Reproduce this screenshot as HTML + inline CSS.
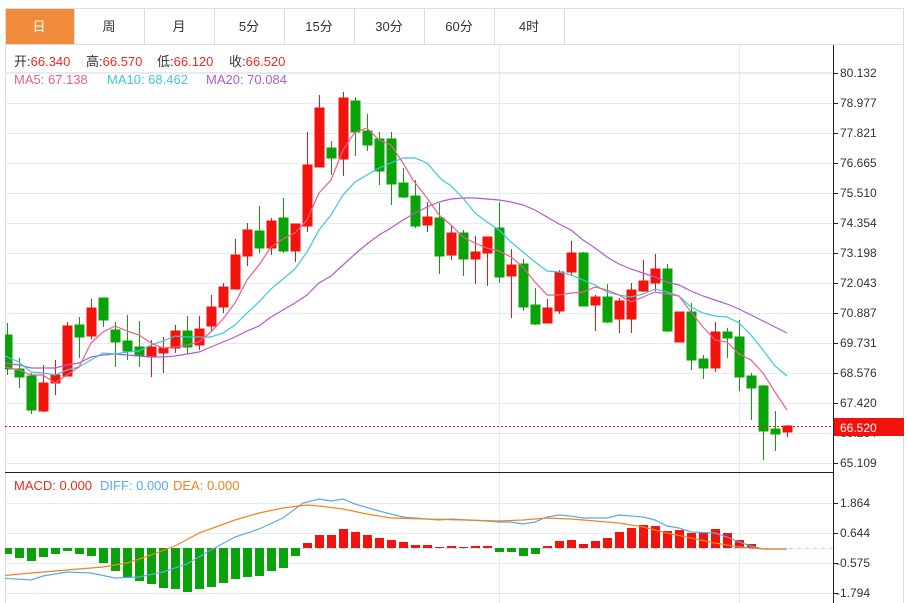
<!DOCTYPE html>
<html><head><meta charset="utf-8"><style>
html,body{margin:0;padding:0;background:#fff;width:907px;height:603px;overflow:hidden}
svg{display:block}
text{font-family:"Liberation Sans","Noto Sans CJK SC",sans-serif;font-size:12px}
.t{font-size:13px}
</style></head><body>
<svg width="907" height="603" viewBox="0 0 907 603" xmlns="http://www.w3.org/2000/svg">
<defs><clipPath id="c"><rect x="5" y="45" width="828" height="558"/></clipPath></defs>
<rect x="5.5" y="8.5" width="898" height="600" fill="none" stroke="#dcdcdc"/>
<rect x="6" y="9" width="68" height="35" fill="#f08c3c"/>
<g stroke="#dcdcdc">
<line x1="74.5" y1="9" x2="74.5" y2="44"/><line x1="144.5" y1="9" x2="144.5" y2="44"/><line x1="214.5" y1="9" x2="214.5" y2="44"/><line x1="284.5" y1="9" x2="284.5" y2="44"/><line x1="354.5" y1="9" x2="354.5" y2="44"/><line x1="424.5" y1="9" x2="424.5" y2="44"/><line x1="494.5" y1="9" x2="494.5" y2="44"/><line x1="564.5" y1="9" x2="564.5" y2="44"/>
<line x1="5" y1="44.5" x2="904" y2="44.5"/>
<line x1="5" y1="72.5" x2="833" y2="72.5" stroke="#e6ebf0"/>
</g>
<g text-anchor="middle" fill="#333">
<text class="t" x="39" y="31" fill="#fff">日</text>
<text class="t" x="109" y="31">周</text>
<text class="t" x="179" y="31">月</text>
<text class="t" x="249" y="31">5分</text>
<text class="t" x="319" y="31">15分</text>
<text class="t" x="389" y="31">30分</text>
<text class="t" x="459" y="31">60分</text>
<text class="t" x="529" y="31">4时</text>
</g>
<g class="t">
<text class="t" x="14" y="66" fill="#333">开:<tspan fill="#f0281e">66.340</tspan></text>
<text class="t" x="86" y="66" fill="#333">高:<tspan fill="#f0281e">66.570</tspan></text>
<text class="t" x="157" y="66" fill="#333">低:<tspan fill="#f0281e">66.120</tspan></text>
<text class="t" x="229" y="66" fill="#333">收:<tspan fill="#f0281e">66.520</tspan></text>
<text class="t" x="14" y="84" fill="#ec5e8a">MA5: 67.138</text>
<text class="t" x="107" y="84" fill="#3ec6e0">MA10: 68.462</text>
<text class="t" x="206" y="84" fill="#b15bd0">MA20: 70.084</text>
</g>
<g stroke="#e6ebf0">
<line x1="5" y1="73.5" x2="833" y2="73.5"/><line x1="5" y1="103.5" x2="833" y2="103.5"/><line x1="5" y1="133.5" x2="833" y2="133.5"/><line x1="5" y1="163.5" x2="833" y2="163.5"/><line x1="5" y1="193.5" x2="833" y2="193.5"/><line x1="5" y1="223.5" x2="833" y2="223.5"/><line x1="5" y1="253.5" x2="833" y2="253.5"/><line x1="5" y1="283.5" x2="833" y2="283.5"/><line x1="5" y1="313.5" x2="833" y2="313.5"/><line x1="5" y1="343.5" x2="833" y2="343.5"/><line x1="5" y1="373.5" x2="833" y2="373.5"/><line x1="5" y1="403.5" x2="833" y2="403.5"/><line x1="5" y1="433.5" x2="833" y2="433.5"/><line x1="5" y1="463.5" x2="833" y2="463.5"/>
<line x1="5" y1="503.5" x2="833" y2="503.5"/><line x1="5" y1="533.5" x2="833" y2="533.5"/><line x1="5" y1="563.5" x2="833" y2="563.5"/><line x1="5" y1="593.5" x2="833" y2="593.5"/>
<line x1="499.5" y1="45" x2="499.5" y2="603"/><line x1="739.5" y1="45" x2="739.5" y2="603"/>
</g>
<g clip-path="url(#c)">
<g stroke-width="1">
<g fill="#09a309" stroke="#09a309">
<line x1="7.5" y1="323" x2="7.5" y2="375"/><rect x="3" y="335" width="9" height="34"/>
<line x1="19.5" y1="358" x2="19.5" y2="388"/><rect x="15" y="369" width="9" height="8"/>
<line x1="31.5" y1="373" x2="31.5" y2="414"/><rect x="27" y="376" width="9" height="34"/>
<line x1="79.5" y1="317" x2="79.5" y2="358"/><rect x="75" y="325" width="9" height="12"/>
<line x1="103.5" y1="298" x2="103.5" y2="327"/><rect x="99" y="298" width="9" height="22"/>
<line x1="115.5" y1="322" x2="115.5" y2="367"/><rect x="111" y="330" width="9" height="12"/>
<line x1="127.5" y1="315" x2="127.5" y2="360"/><rect x="123" y="341" width="9" height="10"/>
<line x1="139.5" y1="321" x2="139.5" y2="367"/><rect x="135" y="347" width="9" height="9"/>
<line x1="187.5" y1="316" x2="187.5" y2="354"/><rect x="183" y="331" width="9" height="16"/>
<line x1="259.5" y1="206" x2="259.5" y2="253"/><rect x="255" y="231" width="9" height="17"/>
<line x1="283.5" y1="198" x2="283.5" y2="253"/><rect x="279" y="218" width="9" height="33"/>
<line x1="331.5" y1="141" x2="331.5" y2="175"/><rect x="327" y="148" width="9" height="10"/>
<line x1="355.5" y1="97" x2="355.5" y2="156"/><rect x="351" y="101" width="9" height="31"/>
<line x1="367.5" y1="114" x2="367.5" y2="151"/><rect x="363" y="131" width="9" height="14"/>
<line x1="379.5" y1="132" x2="379.5" y2="185"/><rect x="375" y="139" width="9" height="32"/>
<line x1="391.5" y1="132" x2="391.5" y2="205"/><rect x="387" y="139" width="9" height="45"/>
<line x1="403.5" y1="168" x2="403.5" y2="198"/><rect x="399" y="183" width="9" height="14"/>
<line x1="415.5" y1="180" x2="415.5" y2="228"/><rect x="411" y="196" width="9" height="30"/>
<line x1="439.5" y1="203" x2="439.5" y2="274"/><rect x="435" y="218" width="9" height="38"/>
<line x1="463.5" y1="230" x2="463.5" y2="276"/><rect x="459" y="233" width="9" height="26"/>
<line x1="499.5" y1="202" x2="499.5" y2="283"/><rect x="495" y="228" width="9" height="49"/>
<line x1="523.5" y1="259" x2="523.5" y2="311"/><rect x="519" y="264" width="9" height="43"/>
<line x1="535.5" y1="288" x2="535.5" y2="325"/><rect x="531" y="305" width="9" height="19"/>
<line x1="583.5" y1="252" x2="583.5" y2="306"/><rect x="579" y="253" width="9" height="53"/>
<line x1="607.5" y1="284" x2="607.5" y2="323"/><rect x="603" y="297" width="9" height="25"/>
<line x1="667.5" y1="264" x2="667.5" y2="332"/><rect x="663" y="269" width="9" height="62"/>
<line x1="691.5" y1="303" x2="691.5" y2="370"/><rect x="687" y="312" width="9" height="48"/>
<line x1="703.5" y1="355" x2="703.5" y2="379"/><rect x="699" y="359" width="9" height="9"/>
<line x1="727.5" y1="328" x2="727.5" y2="358"/><rect x="723" y="332" width="9" height="6"/>
<line x1="739.5" y1="320" x2="739.5" y2="391"/><rect x="735" y="337" width="9" height="40"/>
<line x1="751.5" y1="373" x2="751.5" y2="420"/><rect x="747" y="376" width="9" height="12"/>
<line x1="763.5" y1="385" x2="763.5" y2="460"/><rect x="759" y="386" width="9" height="45"/>
<line x1="775.5" y1="411" x2="775.5" y2="451"/><rect x="771" y="429" width="9" height="5"/>
</g>
<g fill="#f2140c" stroke="#f2140c">
<line x1="43.5" y1="365" x2="43.5" y2="412"/><rect x="39" y="383" width="9" height="28"/>
<line x1="55.5" y1="360" x2="55.5" y2="395"/><rect x="51" y="375" width="9" height="8"/>
<line x1="67.5" y1="322" x2="67.5" y2="376"/><rect x="63" y="326" width="9" height="50"/>
<line x1="91.5" y1="299" x2="91.5" y2="339"/><rect x="87" y="308" width="9" height="28"/>
<line x1="151.5" y1="340" x2="151.5" y2="377"/><rect x="147" y="347" width="9" height="10"/>
<line x1="163.5" y1="337" x2="163.5" y2="373"/><rect x="159" y="348" width="9" height="5"/>
<line x1="175.5" y1="325" x2="175.5" y2="353"/><rect x="171" y="331" width="9" height="17"/>
<line x1="199.5" y1="316" x2="199.5" y2="350"/><rect x="195" y="329" width="9" height="16"/>
<line x1="211.5" y1="295" x2="211.5" y2="331"/><rect x="207" y="307" width="9" height="19"/>
<line x1="223.5" y1="283" x2="223.5" y2="313"/><rect x="219" y="287" width="9" height="20"/>
<line x1="235.5" y1="239" x2="235.5" y2="289"/><rect x="231" y="255" width="9" height="34"/>
<line x1="247.5" y1="223" x2="247.5" y2="266"/><rect x="243" y="230" width="9" height="26"/>
<line x1="271.5" y1="218" x2="271.5" y2="255"/><rect x="267" y="221" width="9" height="27"/>
<line x1="295.5" y1="224" x2="295.5" y2="262"/><rect x="291" y="224" width="9" height="27"/>
<line x1="307.5" y1="132" x2="307.5" y2="232"/><rect x="303" y="165" width="9" height="61"/>
<line x1="319.5" y1="95" x2="319.5" y2="167"/><rect x="315" y="108" width="9" height="59"/>
<line x1="343.5" y1="92" x2="343.5" y2="176"/><rect x="339" y="98" width="9" height="61"/>
<line x1="427.5" y1="202" x2="427.5" y2="232"/><rect x="423" y="217" width="9" height="8"/>
<line x1="451.5" y1="225" x2="451.5" y2="260"/><rect x="447" y="233" width="9" height="22"/>
<line x1="475.5" y1="236" x2="475.5" y2="284"/><rect x="471" y="252" width="9" height="7"/>
<line x1="487.5" y1="237" x2="487.5" y2="286"/><rect x="483" y="237" width="9" height="16"/>
<line x1="511.5" y1="249" x2="511.5" y2="318"/><rect x="507" y="265" width="9" height="11"/>
<line x1="547.5" y1="299" x2="547.5" y2="323"/><rect x="543" y="308" width="9" height="15"/>
<line x1="559.5" y1="270" x2="559.5" y2="314"/><rect x="555" y="272" width="9" height="39"/>
<line x1="571.5" y1="241" x2="571.5" y2="276"/><rect x="567" y="253" width="9" height="19"/>
<line x1="595.5" y1="295" x2="595.5" y2="331"/><rect x="591" y="297" width="9" height="8"/>
<line x1="619.5" y1="298" x2="619.5" y2="333"/><rect x="615" y="301" width="9" height="18"/>
<line x1="631.5" y1="283" x2="631.5" y2="333"/><rect x="627" y="290" width="9" height="29"/>
<line x1="643.5" y1="260" x2="643.5" y2="292"/><rect x="639" y="281" width="9" height="10"/>
<line x1="655.5" y1="254" x2="655.5" y2="291"/><rect x="651" y="269" width="9" height="14"/>
<line x1="679.5" y1="312" x2="679.5" y2="342"/><rect x="675" y="312" width="9" height="30"/>
<line x1="715.5" y1="322" x2="715.5" y2="372"/><rect x="711" y="332" width="9" height="36"/>
<line x1="787.5" y1="425" x2="787.5" y2="437"/><rect x="783" y="426" width="9" height="6"/>
</g>
</g>
<g fill="none" stroke-width="1.2">
<polyline stroke="#b15bd0" points="5,363 19,365 31,368 43,368 55,368 67,365 79,363 91,357 103,355 115,354 127,355 139,356 151,357 163,357 175,356 187,354 199,352 211,347 223,342 235,337 247,331 259,326 271,317 283,310 295,303 307,295 319,283 331,276 343,265 355,254 367,244 379,235 391,228 403,220 415,213 427,207 439,202 451,199 463,198 475,198 487,199 499,200 511,202 523,205 535,210 547,217 559,224 571,230 583,240 595,248 607,257 619,264 631,269 643,273 655,277 667,282 679,285 691,291 703,296 715,300 727,304 739,309 751,315 763,321 775,327 787,333"/>
<polyline stroke="#3ec6e0" points="5,356 19,362 31,372 43,373 55,375 67,370 79,367 91,360 103,353 115,354 127,352 139,351 151,345 163,341 175,336 187,337 199,337 211,337 223,333 235,325 247,313 259,302 271,289 283,279 295,269 307,252 319,230 331,215 343,195 355,182 367,175 379,168 391,163 403,158 415,158 427,163 442,180 450,185 463,198 475,213 487,222 499,230 511,242 523,252 535,262 547,271 559,272 571,275 583,280 595,285 607,292 619,295 631,297 643,294 655,289 667,292 679,296 691,307 703,313 715,316 727,317 739,323 751,335 763,350 775,366 787,376"/>
<polyline stroke="#ec5e8a" points="5,367 19,370 31,375 43,375 55,383 67,375 79,367 91,343 103,332 115,326 127,331 139,335 151,343 163,348 175,347 187,345 199,342 211,332 223,319 235,303 247,280 259,265 271,247 283,239 295,233 307,220 319,193 331,180 343,150 355,132 367,128 379,140 391,145 403,163 413,180 427,198 439,215 451,225 463,237 475,243 487,248 499,251 511,257 523,267 535,282 547,295 559,295 571,293 583,292 595,287 607,290 619,295 631,302 643,297 655,292 667,294 679,296 691,312 703,327 715,340 727,342 739,354 751,360 763,373 775,392 787,410"/>
</g>
<line x1="5" y1="426.5" x2="833" y2="426.5" stroke="#f2140c" stroke-dasharray="2,2"/>
<line x1="5" y1="548.5" x2="833" y2="548.5" stroke="#a8dcf0" stroke-dasharray="4,4"/>
<g fill="#09a309">
<rect x="3" y="548" width="9" height="6"/><rect x="15" y="548" width="9" height="10"/><rect x="27" y="548" width="9" height="13"/><rect x="39" y="548" width="9" height="9"/><rect x="51" y="548" width="9" height="6"/><rect x="63" y="548" width="9" height="3"/><rect x="75" y="548" width="9" height="6"/><rect x="87" y="548" width="9" height="8"/><rect x="99" y="548" width="9" height="15"/><rect x="111" y="548" width="9" height="23"/><rect x="123" y="548" width="9" height="29"/><rect x="135" y="548" width="9" height="33"/><rect x="147" y="548" width="9" height="36"/><rect x="159" y="548" width="9" height="40"/><rect x="171" y="548" width="9" height="41"/><rect x="183" y="548" width="9" height="44"/><rect x="195" y="548" width="9" height="41"/><rect x="207" y="548" width="9" height="39"/><rect x="219" y="548" width="9" height="35"/><rect x="231" y="548" width="9" height="31"/><rect x="243" y="548" width="9" height="29"/><rect x="255" y="548" width="9" height="28"/><rect x="267" y="548" width="9" height="23"/><rect x="279" y="548" width="9" height="20"/><rect x="291" y="548" width="9" height="8"/>
<rect x="495" y="548" width="9" height="4"/><rect x="507" y="548" width="9" height="4"/><rect x="519" y="548" width="9" height="8"/><rect x="531" y="548" width="9" height="6"/>
</g>
<g fill="#f2140c">
<rect x="303" y="543" width="9" height="5"/><rect x="315" y="535" width="9" height="13"/><rect x="327" y="535" width="9" height="13"/><rect x="339" y="529" width="9" height="19"/><rect x="351" y="532" width="9" height="16"/><rect x="363" y="535" width="9" height="13"/><rect x="375" y="538" width="9" height="10"/><rect x="387" y="540" width="9" height="8"/><rect x="399" y="542" width="9" height="6"/><rect x="411" y="545" width="9" height="3"/><rect x="423" y="545" width="9" height="3"/><rect x="435" y="547" width="9" height="1"/><rect x="447" y="546" width="9" height="2"/><rect x="459" y="547" width="9" height="1"/><rect x="471" y="546" width="9" height="2"/><rect x="483" y="546" width="9" height="2"/>
<rect x="543" y="546" width="9" height="2"/><rect x="555" y="541" width="9" height="7"/><rect x="567" y="540" width="9" height="8"/><rect x="579" y="544" width="9" height="4"/><rect x="591" y="541" width="9" height="7"/><rect x="603" y="538" width="9" height="10"/><rect x="615" y="532" width="9" height="16"/><rect x="627" y="528" width="9" height="20"/><rect x="639" y="525" width="9" height="23"/><rect x="651" y="526" width="9" height="22"/><rect x="663" y="531" width="9" height="17"/><rect x="675" y="530" width="9" height="18"/><rect x="687" y="533" width="9" height="15"/><rect x="699" y="533" width="9" height="15"/><rect x="711" y="529" width="9" height="19"/><rect x="723" y="533" width="9" height="15"/><rect x="735" y="540" width="9" height="8"/><rect x="747" y="544" width="9" height="4"/>
</g>
<g fill="none" stroke-width="1.2">
<polyline stroke="#5aa9ef" points="0,578 31,580 43,576 67,572 91,573 115,578 139,577 163,572 187,564 211,550 235,537 259,529 283,518 303,503 319,499 331,501 343,499 355,504 379,511 403,517 415,518 439,520 451,519 487,521 499,522 511,522 523,524 535,522 547,517 559,515 571,516 583,518 607,518 619,515 643,517 655,520 667,526 679,528 691,532 715,533 727,537 739,542 751,546 763,549 787,549"/>
<polyline stroke="#f5821f" points="0,576 31,573 67,570 103,567 127,563 151,555 175,546 199,533 235,520 259,513 283,508 307,505 319,506 343,509 367,514 391,518 427,519 463,520 499,521 523,520 547,518 571,519 595,521 619,523 643,527 667,533 691,538 715,543 739,547 763,549 787,549"/>
</g>
</g>
<text class="t" x="14" y="490" fill="#f0281e">MACD: 0.000</text>
<text class="t" x="100" y="490" fill="#5aa9ef">DIFF: 0.000</text>
<text class="t" x="173" y="490" fill="#f5821f">DEA: 0.000</text>
<line x1="5" y1="472.5" x2="833" y2="472.5" stroke="#222"/>
<line x1="833.5" y1="45" x2="833.5" y2="603" stroke="#222"/>
<g stroke="#222">
<line x1="833" y1="73.5" x2="838" y2="73.5"/><line x1="833" y1="103.5" x2="838" y2="103.5"/><line x1="833" y1="133.5" x2="838" y2="133.5"/><line x1="833" y1="163.5" x2="838" y2="163.5"/><line x1="833" y1="193.5" x2="838" y2="193.5"/><line x1="833" y1="223.5" x2="838" y2="223.5"/><line x1="833" y1="253.5" x2="838" y2="253.5"/><line x1="833" y1="283.5" x2="838" y2="283.5"/><line x1="833" y1="313.5" x2="838" y2="313.5"/><line x1="833" y1="343.5" x2="838" y2="343.5"/><line x1="833" y1="373.5" x2="838" y2="373.5"/><line x1="833" y1="403.5" x2="838" y2="403.5"/><line x1="833" y1="433.5" x2="838" y2="433.5"/><line x1="833" y1="463.5" x2="838" y2="463.5"/>
<line x1="833" y1="503.5" x2="838" y2="503.5"/><line x1="833" y1="533.5" x2="838" y2="533.5"/><line x1="833" y1="563.5" x2="838" y2="563.5"/><line x1="833" y1="593.5" x2="838" y2="593.5"/>
</g>
<g fill="#333">
<text x="840" y="77">80.132</text><text x="840" y="107">78.977</text><text x="840" y="137">77.821</text><text x="840" y="167">76.665</text><text x="840" y="197">75.510</text><text x="840" y="227">74.354</text><text x="840" y="257">73.198</text><text x="840" y="287">72.043</text><text x="840" y="317">70.887</text><text x="840" y="347">69.731</text><text x="840" y="377">68.576</text><text x="840" y="407">67.420</text><text x="840" y="437">66.264</text><text x="840" y="467">65.109</text>
<text x="840" y="507">1.864</text><text x="840" y="537">0.644</text><text x="836" y="567">-0.575</text><text x="836" y="597">-1.794</text>
</g>
<rect x="834" y="418" width="70" height="18" fill="#f2140c"/>
<text x="840" y="432" fill="#fff">66.520</text>
</svg>
</body></html>
